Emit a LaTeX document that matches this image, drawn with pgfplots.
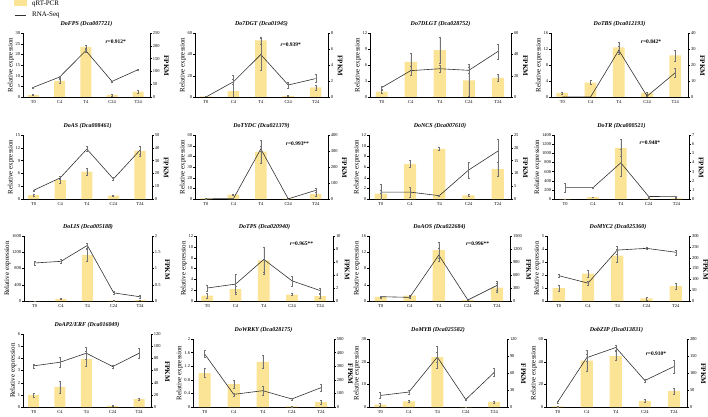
\documentclass[border=0pt]{standalone}
\usepackage{fontspec}
\setmainfont{Liberation Serif}
\usepackage{pgfplots}
\pgfplotsset{compat=1.18}
\definecolor{barc}{RGB}{252,228,150}
\definecolor{linec}{RGB}{50,50,50}
\pgfplotsset{
  every axis/.append style={/pgf/number format/assume math mode=true,/pgf/number format/1000 sep={}},
  base/.style={scale only axis, anchor=south west, xmin=-0.4, xmax=4.45, ymin=0,
    scaled ticks=false, tick align=outside, major tick length=1.8pt,
    every tick/.style={black, line width=0.3pt},
    axis line style={black, line width=0.4pt},
    tick label style={font=\fontsize{4.5}{5}\selectfont},
    ylabel style={font=\fontsize{7}{8}\selectfont},
    yticklabel style={inner sep=1pt}},
  leftax/.style={base, axis y line*=left, axis x line*=bottom,
    xtick={0,1,2,3,4}, xticklabels={T0,C4,T4,C24,T24}, xtick style={draw=none},
    xticklabel style={inner sep=1.5pt},
    ylabel={Relative expression}, ylabel style={yshift=-3pt},
    title style={font=\fontsize{6}{7}\selectfont\bfseries\itshape, yshift=-3pt}},
  rightax/.style={base, axis y line*=right, axis x line=none,
    ylabel={\bfseries FPKM}, ylabel style={rotate=180, anchor=south, xshift=1pt}},
  bars/.style={ybar, bar width=0.42, fill=barc, draw=none,
    error bars/.cd, y dir=both, y explicit,
    error bar style={line width=0.3pt, black!55},
    error mark options={rotate=90, mark size=1pt, line width=0.3pt, black!55}},
  rna/.style={linec, line width=0.6pt, mark=none,
    error bars/.cd, y dir=both, y explicit,
    error bar style={line width=0.3pt, black!55},
    error mark options={rotate=90, mark size=1pt, line width=0.3pt, black!55}},
}
\tikzset{rt/.style={font=\fontsize{5.5}{6}\selectfont\bfseries, inner sep=0pt}}
\newcommand{\panel}[9]{%
\begin{axis}[leftax, at={(#1bp,#2bp)}, width=#3bp, height=#4bp, title={#5}, #6]
\addplot[bars] coordinates {#8};
\end{axis}
\begin{axis}[rightax, at={(#1bp,#2bp)}, width=#3bp, height=#4bp, #7]
\addplot[rna] coordinates {#9};
\end{axis}}
\begin{document}
\begin{tikzpicture}[x=1bp,y=1bp]
\useasboundingbox (0,0) rectangle (708,416);
% legend
\fill[barc] (14,410) rectangle (27,415.5);
\node[anchor=west, font=\fontsize{7}{8}\selectfont, inner sep=0pt] at (32,412) {qRT-PCR};
\draw[linec, line width=0.7pt] (15,401) -- (26,401);
\node[anchor=west, font=\fontsize{7}{8}\selectfont, inner sep=0pt] at (32,401) {RNA-Seq};
% ---------- row 1
\panel{23}{319}{127}{64}{DoFPS (Dca007721)}
 {ymax=30, ytick={0,5,...,30}, extra description/.code={\node[rt] at (0.73,0.86){\textit{r}=0.912*};}}
 {ymax=250, ytick={0,50,...,250}}
 {(0,1)+-(0,0.2) (1,7.5)+-(0,1) (2,23.5)+-(0,0.8) (3,1)+-(0,0.4) (4,2.5)+-(0,0.5)}
 {(0,38)+-(0,2) (1,78)+-(0,3) (2,181)+-(0,6) (3,61)+-(0,2) (4,107)+-(0,3)}
\panel{195}{319}{133}{64}{Do7DGT (Dca01945)}
 {ymax=60, ytick={0,20,40,60}, extra description/.code={\node[rt] at (0.72,0.81){\textit{r}=0.939*};}}
 {ymax=8, ytick={0,2,4,6,8}}
 {(0,0.6)+-(0,0.2) (1,5.6)+-(0,15) (2,53)+-(0,3.5) (3,1)+-(0,0.5) (4,9)+-(0,2.5)}
 {(0,0)+-(0,0.05) (1,1.9)+-(0,0.3) (2,5.3)+-(0,2) (3,1.5)+-(0,0.4) (4,2.3)+-(0,0.5)}
\panel{370}{319}{141}{64}{Do7DLGT (Dca028752)}
 {ymax=12, ytick={0,3,6,9,12}}
 {ymax=60, ytick={0,20,40,60}}
 {(0,1)+-(0,0.3) (1,6.6)+-(0,1.6) (2,8.8)+-(0,2.5) (3,3.1)+-(0,3) (4,3.6)+-(0,0.7)}
 {(0,8.8)+-(0,1.5) (1,24.7)+-(0,4) (2,26.5)+-(0,3) (3,25)+-(0,3) (4,42.7)+-(0,7)}
\panel{551}{319}{137}{64}{DoTBS (Dca012193)}
 {ymax=16, ytick={0,4,8,12,16}, extra description/.code={\node[rt] at (0.73,0.86){\textit{r}=0.842*};}}
 {ymax=40, ytick={0,10,20,30,40}}
 {(0,1)+-(0,0.3) (1,3.6)+-(0,0.5) (2,12.4)+-(0,1.2) (3,1)+-(0,0.3) (4,10.4)+-(0,1.4)}
 {(0,0)+-(0,0) (1,0)+-(0,0.1) (2,29.2)+-(0,2.5) (3,0.5)+-(0,0.3) (4,15.2)+-(0,3)}
% ---------- row 2
\panel{23}{217}{129}{64}{DoAS (Dca008461)}
 {ymax=15, ytick={0,3,...,15}}
 {ymax=50, ytick={0,10,...,50}}
 {(0,0.9)+-(0,0.15) (1,4.4)+-(0,0.6) (2,6.4)+-(0,0.8) (3,0.8)+-(0,0.1) (4,11.3)+-(0,1.2)}
 {(0,6.8)+-(0,0.5) (1,16.5)+-(0,1) (2,39)+-(0,2) (3,15.7)+-(0,1) (4,38.2)+-(0,3)}
\panel{195}{217}{133}{64}{DoTYDC (Dca021379)}
 {ymax=60, ytick={0,10,...,60}, extra description/.code={\node[rt] at (0.77,0.86){\textit{r}=0.993**};}}
 {ymax=400, ytick={0,100,...,400}}
 {(0,0.5)+-(0,0.2) (1,4)+-(0,0.3) (2,44.5)+-(0,11) (3,0.3)+-(0,0.1) (4,4.5)+-(0,2)}
 {(0,1)+-(0,1) (1,2)+-(0,1) (2,313)+-(0,15) (3,1)+-(0,1) (4,54)+-(0,12)}
\panel{369}{217}{142}{64}{DoNCS (Dca007610)}
 {ymax=12, ytick={0,2,...,12}}
 {ymax=25, ytick={0,5,...,25}}
 {(0,1)+-(0,1.7) (1,6.6)+-(0,0.6) (2,9.4)+-(0,0.3) (3,0.7)+-(0,0.2) (4,5.6)+-(0,1.3)}
 {(0,2.7)+-(0,0.6) (1,2.7)+-(0,1.9) (2,1.3)+-(0,0.3) (3,11.3)+-(0,3) (4,18.7)+-(0,4.5)}
\panel{554}{217}{135}{64}{DoTR (Dca000521)}
 {ymax=1400, ytick={0,200,...,1400}, extra description/.code={\node[rt] at (0.71,0.875){\textit{r}=0.948*};}}
 {ymax=7, ytick={0,1,...,7}}
 {(0,5)+-(0,2) (1,40)+-(0,10) (2,1120)+-(0,180) (3,10)+-(0,5) (4,15)+-(0,5)}
 {(0,1.24)+-(0,0.5) (1,1.24)+-(0,0.05) (2,3.96)+-(0,1.5) (3,0.28)+-(0,0.05) (4,0.25)+-(0,0.05)}
% ---------- row 3
\panel{24}{115}{128}{65}{DoLIS (Dca005188)}
 {ymax=1600, ytick={0,400,...,1600}}
 {ymax=2, ytick={0,0.5,1,1.5,2}}
 {(0,0)+-(0,0) (1,50)+-(0,10) (2,1130)+-(0,150) (3,10)+-(0,5) (4,20)+-(0,5)}
 {(0,1.17)+-(0,0.07) (1,1.22)+-(0,0.06) (2,1.71)+-(0,0.08) (3,0.25)+-(0,0.05) (4,0.13)+-(0,0.05)}
\panel{196}{115}{137}{65}{DoTPS (Dca020940)}
 {ymax=12, ytick={0,2,...,12}, extra description/.code={\node[rt] at (0.77,0.88){\textit{r}=0.965**};}}
 {ymax=10, ytick={0,2,...,10}}
 {(0,1)+-(0,0.4) (1,2.2)+-(0,0.5) (2,7.5)+-(0,2.5) (3,1.2)+-(0,0.2) (4,0.9)+-(0,0.3)}
 {(0,2.0)+-(0,0.5) (1,2.6)+-(0,1.5) (2,6.4)+-(0,1.9) (3,3.1)+-(0,0.8) (4,1.6)+-(0,0.4)}
\panel{369}{115}{141}{65}{DoAOS (Dca022684)}
 {ymax=16, ytick={0,4,...,16}, extra description/.code={\node[rt] at (0.77,0.88){\textit{r}=0.996**};}}
 {ymax=1500, ytick={0,300,...,1500}}
 {(0,1)+-(0,0.2) (1,1.3)+-(0,0.2) (2,12.5)+-(0,2) (3,0.2)+-(0,0.05) (4,3.3)+-(0,1.2)}
 {(0,100)+-(0,20) (1,84)+-(0,10) (2,1060)+-(0,150) (3,23)+-(0,5) (4,358)+-(0,100)}
\panel{547}{115}{142}{65}{DoMYC2 (Dca025360)}
 {ymax=5, ytick={0,1,...,5}}
 {ymax=300, ytick={0,50,...,300}}
 {(0,1)+-(0,0.25) (1,2.1)+-(0,0.3) (2,3.5)+-(0,0.5) (3,0.2)+-(0,0.1) (4,1.15)+-(0,0.2)}
 {(0,117)+-(0,5) (1,82.5)+-(0,8) (2,235)+-(0,20) (3,243)+-(0,5) (4,225)+-(0,12)}
% ---------- row 4
\panel{23}{9}{128}{73}{DoAP2/ERF (Dca016049)}
 {ymax=6, ytick={0,1,...,6}}
 {ymax=120, ytick={0,20,...,120}}
 {(0,1)+-(0,0.15) (1,1.65)+-(0,0.5) (2,3.95)+-(0,0.6) (3,0.1)+-(0,0.05) (4,0.65)+-(0,0.05)}
 {(0,67.6)+-(0,3) (1,73.6)+-(0,8) (2,88.4)+-(0,10) (3,66.5)+-(0,3) (4,88.4)+-(0,8)}
\panel{193}{9}{141}{68}{DoWRKY (Dca028175)}
 {ymax=2, ytick={0,0.4,0.8,1.2,1.6,2}}
 {ymax=500, ytick={0,100,...,500}}
 {(0,1)+-(0,0.13) (1,0.67)+-(0,0.13) (2,1.33)+-(0,0.2) (3,0.02)+-(0,0.01) (4,0.14)+-(0,0.05)}
 {(0,390)+-(0,25) (1,93)+-(0,10) (2,120)+-(0,35) (3,59)+-(0,5) (4,142)+-(0,25)}
\panel{369}{9}{138}{68}{DoMYB (Dca025582)}
 {ymax=30, ytick={0,10,20,30}}
 {ymax=120, ytick={0,30,...,120}}
 {(0,1)+-(0,0.5) (1,2.5)+-(0,0.4) (2,22)+-(0,5) (3,0.1)+-(0,0.05) (4,2.3)+-(0,0.4)}
 {(0,20.4)+-(0,5) (1,26.4)+-(0,3) (2,88)+-(0,8) (3,13.2)+-(0,1) (4,61)+-(0,7)}
\panel{546}{9}{141}{68}{DobZIP (Dca013831)}
 {ymax=60, ytick={0,20,40,60}, extra description/.code={\node[rt] at (0.78,0.79){\textit{r}=0.910*};}}
 {ymax=200, ytick={0,50,...,200}}
 {(0,0.5)+-(0,0.2) (1,41)+-(0,9) (2,45)+-(0,4) (3,5.5)+-(0,1.5) (4,14)+-(0,3)}
 {(0,14.6)+-(0,2) (1,145)+-(0,10) (2,175)+-(0,8) (3,78)+-(0,5) (4,119)+-(0,20)}
\end{tikzpicture}
\end{document}
